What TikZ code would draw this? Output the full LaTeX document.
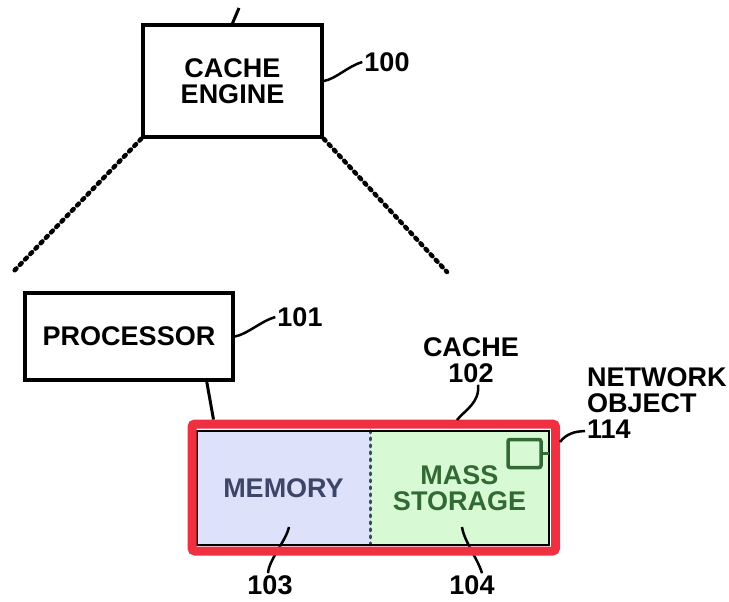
\documentclass[tikz,border=0pt]{standalone}
\usepackage{fontspec}
\setmainfont{Liberation Sans}
\definecolor{cachered}{RGB}{238,48,64}
\definecolor{memfill}{RGB}{221,226,250}
\definecolor{memtext}{RGB}{62,70,104}
\definecolor{massfill}{RGB}{215,250,212}
\definecolor{masstext}{RGB}{50,105,52}
\tikzset{
  bigfont/.style={font=\fontsize{27}{26}\selectfont\bfseries},
  partbox/.style={draw, line width=3.5pt, inner sep=0pt, align=center, bigfont},
  reflabel/.style={inner sep=2pt, align=center, bigfont},
  leader/.style={line width=2.5pt},
  zoomline/.style={line width=4.5pt, line cap=round, dash pattern=on 2.5pt off 5pt},
}

\begin{document}
\begin{tikzpicture}[x=1pt,y=-1pt]
  \useasboundingbox (0,0) rectangle (729,602);
  % Cache engine, seen from outside.
  \node[partbox, minimum width=179pt, minimum height=112pt] (engine) at (232.5,81) {CACHE\\ENGINE};
  \coordinate (stub) at (239,8);
  \draw[line width=3pt] (engine.north) -- (stub);
  \node[reflabel] (l100) at (387,62) {100};
  \draw[leader] (engine.east) .. controls +(12,-2) and +(-14,4) .. (l100.west);

  % Zoomed-in view.
  \coordinate (zoomL) at (13,272);
  \coordinate (zoomR) at (447,272);
  \draw[zoomline] (engine.south west) -- (zoomL);
  \draw[zoomline] (engine.south east) -- (zoomR);

  \node[partbox, minimum width=208pt, minimum height=87pt] (proc) at (129,336.5) {PROCESSOR};
  \node[reflabel] (l101) at (300,317) {101};
  \draw[leader] (proc.east) .. controls +(12,-2) and +(-14,4) .. (l101.west);

  % Cache: memory and mass storage.
  \node[fill=memfill, text=memtext, minimum width=173pt, minimum height=114pt, bigfont] (memory) at (283.5,488) {MEMORY};
  \node[fill=massfill, text=masstext, minimum width=179pt, minimum height=114pt, align=center, bigfont] (mass) at (459.5,488) {MASS\\STORAGE};
  \draw[memtext, line width=3pt, line cap=round, dash pattern=on 2pt off 5pt] (memory.north east) -- (memory.south east);
  \draw[line width=2.5pt] (memory.north west) rectangle (mass.south east);
  \node[draw=masstext, line width=3.5pt, minimum width=33pt, minimum height=28pt, inner sep=0pt, rounded corners=2pt] (netobj) at (524.5,453.5) {};
  \draw[masstext, line width=2.5pt] (netobj.east) -- (netobj.east -| mass.east);

  \node[reflabel] (l103) at (270,585) {103};
  \node[reflabel] (l104) at (472,585) {104};
  \coordinate (c103) at (289,527);
  \coordinate (c104) at (462,527);
  \draw[leader] (c103) .. controls +(-3,14) and +(1,-14) .. ([xshift=-2pt]l103.north);
  \draw[leader] (c104) .. controls +(2,14) and +(-4,-14) .. ([xshift=10pt]l104.north);

  \node[draw=cachered, line width=9pt, minimum width=363.5pt, minimum height=127pt, inner sep=0pt, rounded corners=3pt] (cache) at (373.75,487.5) {};
  \draw[line width=3pt] ([xshift=-28pt]proc.south east) -- ([xshift=26pt]cache.north west);

  \node[reflabel] (l102) at (471,360) {CACHE\\102};
  \coordinate (c102) at (457,420);
  \draw[leader] ([xshift=7pt]l102.south) .. controls +(2,18) and +(8,-10) .. (c102);

  \node[reflabel, anchor=west, align=left] (l114) at (585,403.5) {NETWORK\\OBJECT\\114};
  \coordinate (c114) at (560,442);
  \draw[leader] (c114) .. controls +(6,-8) and +(-10,0) .. ([yshift=10pt]l114.south west);
\end{tikzpicture}
\end{document}
